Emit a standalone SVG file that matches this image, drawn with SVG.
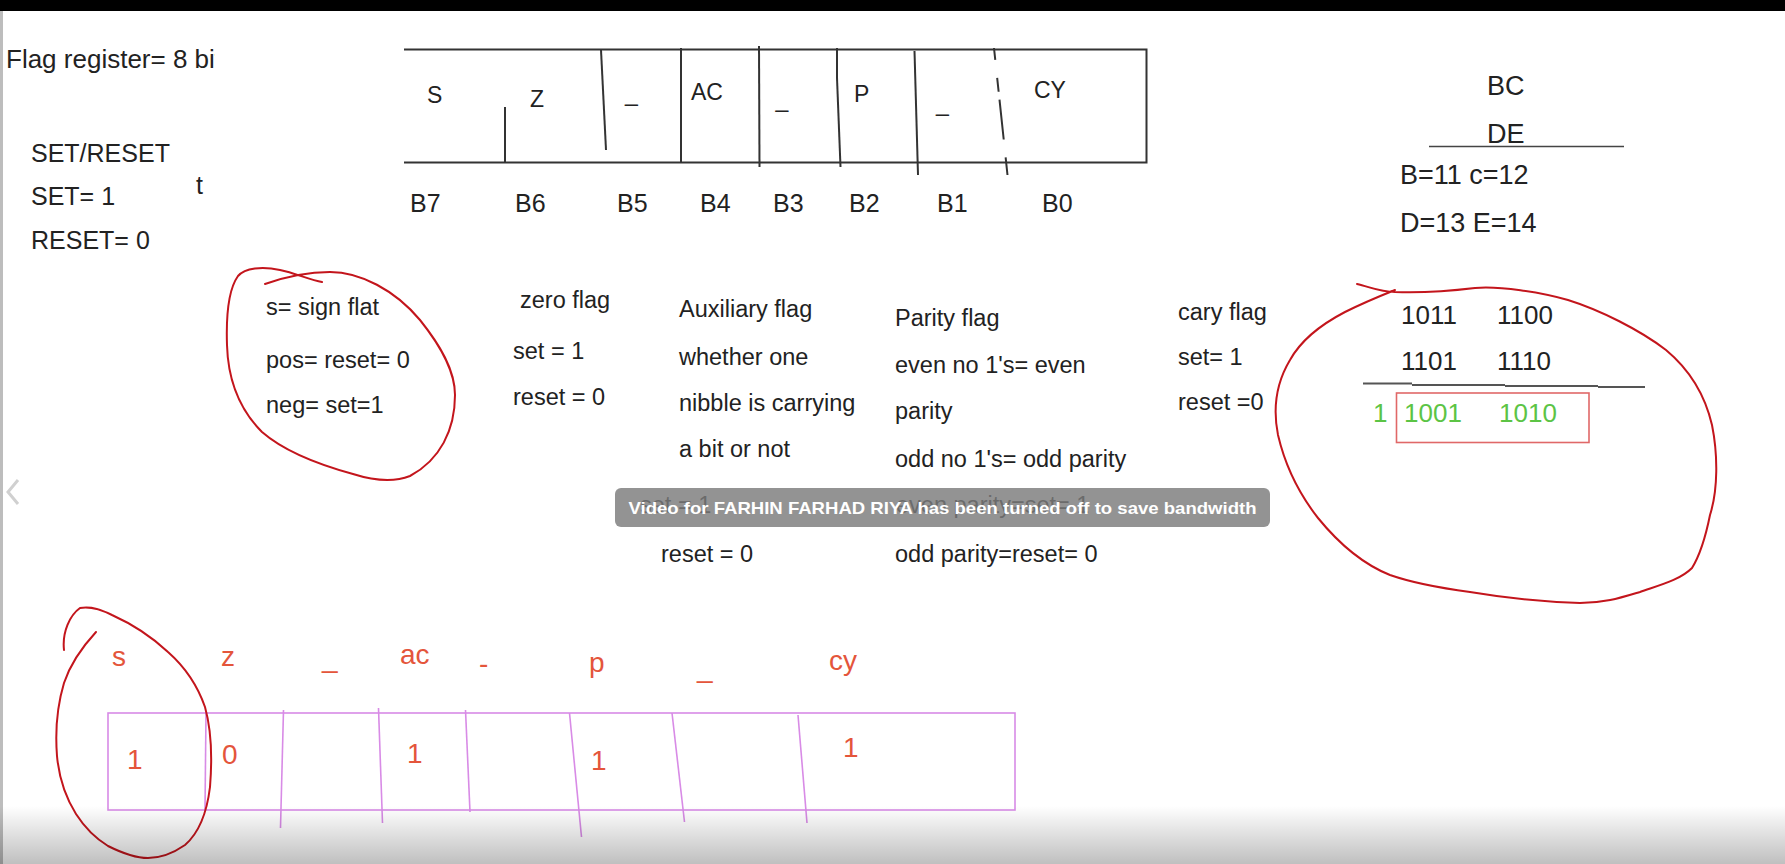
<svg xmlns="http://www.w3.org/2000/svg" width="1785" height="864" viewBox="0 0 1785 864">
<defs>
<style>
text{font-family:"Liberation Sans",Arial,sans-serif;fill:#222}
.d{font-size:23.5px}
.h{font-size:25px}
.reg{font-size:23px}
.b{font-size:25px}
.rt{font-size:27px}
.dig{font-size:26px}
.g{fill:#5cc445}
.o{fill:#e4553b;font-size:28px}
.ln{stroke:#333;stroke-width:2;fill:none}
.pk{stroke:#d88be6;stroke-width:1.6;fill:none}
.red{stroke:#c3151c;stroke-width:2;fill:none;stroke-linecap:round;stroke-linejoin:round}
.ban{fill:#fff;font-weight:bold;font-size:17px}
</style>
<clipPath id="clipFlag"><rect x="0" y="40" width="215" height="40"/></clipPath>
<linearGradient id="fade" x1="0" y1="0" x2="0" y2="1">
<stop offset="0" stop-color="#000" stop-opacity="0"/>
<stop offset="1" stop-color="#000" stop-opacity="0.25"/>
</linearGradient>
</defs>
<rect x="0" y="0" width="1785" height="864" fill="#fff"/>
<rect x="0" y="0" width="1785" height="11" fill="#000"/>
<rect x="0" y="11" width="3" height="853" fill="#bdbdbd"/>
<polyline points="18,480 8,492 18,504" fill="none" stroke="#d0d0d0" stroke-width="3"/>

<g id="intro">
<text x="6" y="68" font-size="26" clip-path="url(#clipFlag)">Flag register= 8 bit</text>
<text class="h" x="31" y="162">SET/RESET</text>
<text class="h" x="31" y="205">SET= 1</text>
<text class="h" x="31" y="249">RESET= 0</text>
<text class="h" x="196" y="194">t</text>
</g>

<g id="flag-register">
<path class="ln" d="M404,49.5 H1146.5 V162.5 H404"/>
<line class="ln" x1="505" y1="107" x2="505" y2="162.5"/>
<line class="ln" x1="601" y1="50" x2="606" y2="150" stroke-width="1.6"/>
<line class="ln" x1="681" y1="48" x2="681" y2="162.5"/>
<line class="ln" x1="759" y1="46" x2="759.5" y2="167"/>
<line class="ln" x1="837" y1="48" x2="837" y2="78" stroke-width="3.5"/>
<line class="ln" x1="837" y1="78" x2="840.5" y2="167" stroke-width="1.5"/>
<line class="ln" x1="914.5" y1="51" x2="918" y2="175" stroke-width="1.6"/>
<line class="ln" x1="994" y1="48" x2="1007.5" y2="175" stroke-width="1.6" stroke-dasharray="12,18,14,8,40,18,22"/>
<text class="reg" x="427" y="103">S</text>
<text class="reg" x="530" y="107">Z</text>
<text class="reg" x="625" y="101">_</text>
<text class="reg" x="691" y="100">AC</text>
<text class="reg" x="775.5" y="107">_</text>
<text class="reg" x="854" y="102">P</text>
<text class="reg" x="936" y="111">_</text>
<text class="reg" x="1034" y="98">CY</text>
<text class="b" x="410" y="212">B7</text>
<text class="b" x="515" y="212">B6</text>
<text class="b" x="617" y="212">B5</text>
<text class="b" x="700" y="212">B4</text>
<text class="b" x="773" y="212">B3</text>
<text class="b" x="849" y="212">B2</text>
<text class="b" x="937" y="212">B1</text>
<text class="b" x="1042" y="212">B0</text>
</g>

<g id="pairs">
<text class="rt" x="1487" y="95">BC</text>
<text class="rt" x="1487" y="143">DE</text>
<line x1="1429" y1="146.5" x2="1624" y2="146.5" stroke="#444" stroke-width="1.6"/>
<text class="rt" x="1400" y="184">B=11 c=12</text>
<text class="rt" x="1400" y="232">D=13 E=14</text>
</g>

<g id="sign-flag">
<text class="d" x="266" y="315">s= sign flat</text>
<text class="d" x="266" y="368">pos= reset= 0</text>
<text class="d" x="266" y="413">neg= set=1</text>
<path class="red" d="M265,284 C282,278 305,272 330,272 C360,272 395,290 420,320 C440,345 455,370 455,395 C455,430 440,460 410,476 C395,482 375,481 353,474 C320,465 285,452 262,432 C240,410 228,380 227,345 C226,315 228,290 238,276 C245,268 262,266 280,270 C295,273 310,280 322,282"/>
</g>

<g id="zero-flag">
<text class="d" x="520" y="308">zero flag</text>
<text class="d" x="513" y="359">set = 1</text>
<text class="d" x="513" y="405">reset = 0</text>
</g>

<g id="aux-flag">
<text class="d" x="679" y="317">Auxiliary flag</text>
<text class="d" x="679" y="365">whether one</text>
<text class="d" x="679" y="411">nibble is carrying</text>
<text class="d" x="679" y="457">a bit or not</text>
<text class="d" x="640" y="513">set = 1</text>
<text class="d" x="661" y="562">reset = 0</text>
</g>

<g id="parity-flag">
<text class="d" x="895" y="326">Parity flag</text>
<text class="d" x="895" y="373">even no 1's= even</text>
<text class="d" x="895" y="419">parity</text>
<text class="d" x="895" y="467">odd no 1's= odd parity</text>
<text class="d" x="896" y="513">even parity=set= 1</text>
<text class="d" x="895" y="562">odd parity=reset= 0</text>
</g>

<g id="carry-flag">
<text class="d" x="1178" y="320">cary flag</text>
<text class="d" x="1178" y="365">set= 1</text>
<text class="d" x="1178" y="410">reset =0</text>
</g>

<g id="carry-example">
<text class="dig" x="1401" y="324">1011</text>
<text class="dig" x="1497" y="324">1100</text>
<text class="dig" x="1401" y="370">1101</text>
<text class="dig" x="1497" y="370">1110</text>
<path d="M1363,383.5 H1412 M1412,385 H1505 M1505,386 H1598 M1598,387 H1645" stroke="#555" stroke-width="1.8" fill="none"/>
<text class="dig g" x="1373" y="422">1</text>
<text class="dig g" x="1404" y="422">1001</text>
<text class="dig g" x="1499" y="422">1010</text>
<rect x="1396.5" y="393" width="192.5" height="49.5" fill="none" stroke="#e06868" stroke-width="1.6"/>
<path class="red" d="M1357,284 C1370,287 1380,292 1395,292 C1420,293 1450,291 1475,288 C1500,286 1540,292 1568,300 C1600,310 1640,330 1666,350 C1690,370 1705,395 1712,425 C1718,455 1718,490 1710,515 C1705,540 1700,555 1692,568 C1680,580 1660,585 1640,592 C1620,598 1605,603 1580,603 C1540,602 1500,597 1470,592 C1440,588 1410,582 1390,575 C1365,565 1340,545 1318,518 C1300,495 1285,465 1278,435 C1272,405 1278,380 1290,360 C1300,342 1320,325 1345,312 C1365,302 1380,296 1395,290"/>
</g>

<g id="example-register">
<rect class="pk" x="108" y="713" width="907" height="97"/>
<line class="pk" x1="206" y1="713" x2="205" y2="810"/>
<line class="pk" x1="283.5" y1="710" x2="280.5" y2="828"/>
<line class="pk" x1="378.5" y1="708" x2="382.5" y2="823"/>
<line class="pk" x1="465.5" y1="710" x2="470" y2="812"/>
<line class="pk" x1="569.5" y1="713" x2="581.5" y2="837"/>
<line class="pk" x1="672" y1="713" x2="684.5" y2="822"/>
<line class="pk" x1="798" y1="715" x2="807" y2="823"/>
<text class="o" x="112" y="666">s</text>
<text class="o" x="221" y="666">z</text>
<text class="o" x="322" y="667">_</text>
<text class="o" x="400" y="664">ac</text>
<text class="o" x="479" y="673" font-size="20">-</text>
<text class="o" x="589" y="672">p</text>
<text class="o" x="697" y="677">_</text>
<text class="o" x="829" y="670">cy</text>
<text class="o" x="127" y="769">1</text>
<text class="o" x="222" y="764">0</text>
<text class="o" x="407" y="763">1</text>
<text class="o" x="591" y="770">1</text>
<text class="o" x="843" y="757">1</text>
<path class="red" d="M64,650 C62,632 70,615 80,608 C92,606 102,610 112,615 C132,624 152,637 168,652 C185,667 198,687 205,707 C212,732 212,762 210,787 C207,812 200,832 185,845 C172,854 160,858 148,858 C134,858 120,852 108,846 C95,838 85,828 76,814 C66,798 59,778 57,756 C55,730 58,703 64,683 C71,662 84,645 96,632"/>
</g>

<g id="video-banner">
<rect x="615" y="488" width="655" height="39" rx="6" fill="#7b7b7b" fill-opacity="0.82"/>
<text class="ban" x="942.5" y="514" text-anchor="middle" textLength="628" lengthAdjust="spacingAndGlyphs">Video for FARHIN FARHAD RIYA has been turned off to save bandwidth</text>
</g>

<rect x="0" y="806" width="1785" height="58" fill="url(#fade)"/>
</svg>
